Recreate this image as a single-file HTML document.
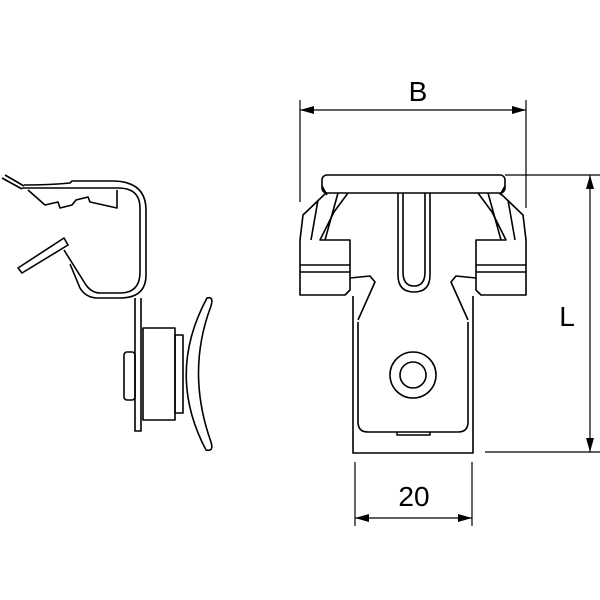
<!DOCTYPE html>
<html><head><style>body{margin:0;background:#fff}svg{display:block}</style></head><body>
<svg width="600" height="600" viewBox="0 0 600 600" xmlns="http://www.w3.org/2000/svg" fill="none" stroke="#000" stroke-width="1.6" stroke-linejoin="round">
<!-- Left side view -->
<path d="M2,178 L22,189 M5,175 L24,186"/>
<path d="M22,188 L115,188 L118,188 Q140,188 140,208 L140,272 Q140,293 120,293 L100,293 Q92,293 86,285 L64,250"/>
<path d="M24,185 Q50,185 70,183 L72,181 L112,181 Q146,181 146,210 L146,275 Q146,298 120,298 L98,298 Q86,298 80,288 L70,264"/>
<path d="M28,190 L45,205 L58,202 L60,208 L72,205 L76,200 L88,197 L90,202 L117,208 L117,190"/>
<path d="M18,268 L64,238 L68,245 L22,273 Z"/>
<path d="M135,298 L135,431 L141,431 L141,298"/>
<rect x="143" y="328" width="32" height="92"/>
<rect x="175" y="335" width="8" height="78"/>
<rect x="124" y="352" width="11" height="48" rx="3"/>
<path d="M207,298 Q214,296 211,306 Q186,372 211,442 Q214,452 206,450 Q166,374 207,298 Z"/>
<!-- Right front view -->
<rect x="322" y="175" width="183" height="18" rx="5"/>
<path d="M322,186 L327,195"/><path d="M505,186 L500,195"/>
<path d="M398,193 L398,275 Q398,292 414,292 Q430,292 430,275 L430,193"/>
<path d="M403,193 L403,272 Q403,286 414,286 Q425,286 425,272 L425,193"/>
<path d="M326,193 L303,215 L300,240 L300,295 L345,295 L350,290 L350,240 L320,240 L334,212 L348,193"/>
<path d="M318,200 L311,240 M338,193 L325,240"/>
<path d="M300,265 L350,265 M300,272 L350,272"/>
<path d="M500,193 L523,215 L526,240 L526,295 L481,295 L476,290 L476,240 L506,240 L492,212 L478,193"/>
<path d="M508,200 L515,240 M488,193 L501,240"/>
<path d="M476,265 L526,265 M476,272 L526,272"/>
<path d="M350,278 L370,276 L375,282 L358,320"/>
<path d="M476,278 L456,276 L451,282 L468,320"/>
<path d="M353,296 L353,453 L473,453 L473,296"/>
<path d="M358,322 L358,422 Q358,432 368,432 L458,432 Q468,432 468,422 L468,322"/>
<path d="M397,432 L397,435 L430,435 L430,432"/>
<circle cx="413" cy="375" r="23"/><circle cx="413" cy="375" r="13"/>
<!-- Dimensions -->
<g stroke-width="1.2">
<path d="M300,100 L300,202 M526,100 L526,208"/>
<path d="M300,110 L526,110"/>
<path d="M505,175 L600,175 M485,452 L600,452"/>
<path d="M590,175 L590,452"/>
<path d="M355,462 L355,526 M472,462 L472,526"/>
<path d="M355,518 L472,518"/>
</g>
<g fill="#000" stroke="none">
<path d="M300,110 L314,106 L314,114 Z"/><path d="M526,110 L512,106 L512,114 Z"/>
<path d="M590,175 L586,189 L594,189 Z"/><path d="M590,452 L586,438 L594,438 Z"/>
<path d="M355,518 L369,514 L369,522 Z"/><path d="M472,518 L458,514 L458,522 Z"/>
<text x="418" y="101" font-family="Liberation Sans, sans-serif" font-size="28" text-anchor="middle">B</text>
<text x="567" y="326" font-family="Liberation Sans, sans-serif" font-size="28" text-anchor="middle">L</text>
<text x="414" y="506" font-family="Liberation Sans, sans-serif" font-size="28" text-anchor="middle">20</text>
</g>
</svg>
</body></html>
